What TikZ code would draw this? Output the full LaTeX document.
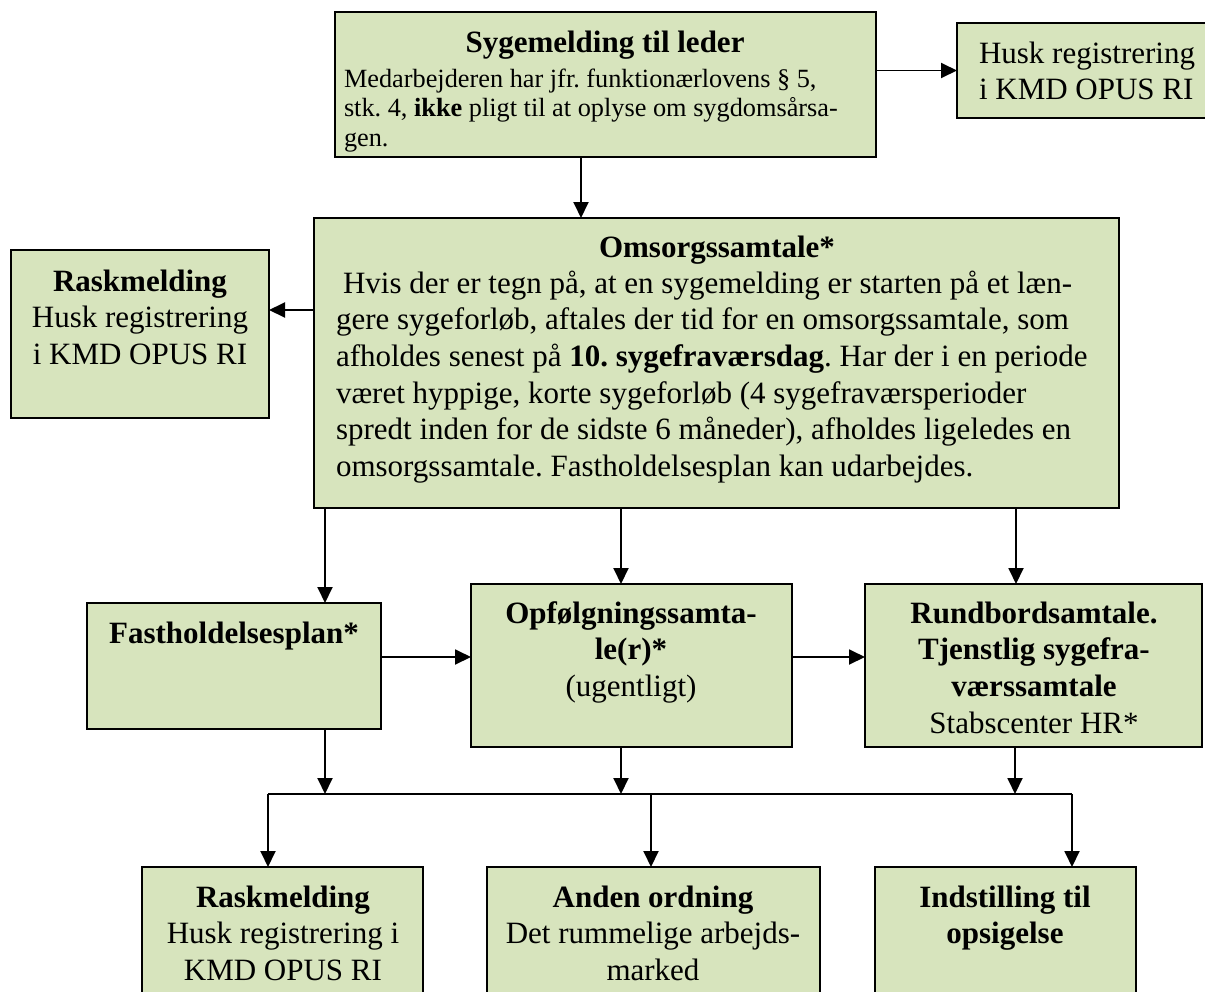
\documentclass[tikz,border=0pt]{standalone}
\usepackage{fontspec}
\setmainfont{Liberation Serif}
\usetikzlibrary{arrows.meta}
\definecolor{boxgreen}{HTML}{D7E4BD}
\frenchspacing
\begin{document}
\begin{tikzpicture}[x=1pt,y=-1pt,
  box/.style={draw=black, fill=boxgreen, line width=1.8pt, rectangle, inner sep=0pt, outer sep=0pt},
  txt/.style={inner sep=0pt, outer sep=0pt, font=\frenchspacing\fontsize{31}{36.7}\selectfont},
  smalltxt/.style={inner sep=0pt, outer sep=0pt, font=\frenchspacing\fontsize{26.3}{29.7}\selectfont},
  arr/.style={line width=1.9pt, -{Triangle[length=16pt,width=15pt]}},
  busline/.style={line width=1.4pt}
]
\useasboundingbox (0,0) rectangle (1205,991);
\clip (0,0) rectangle (1205,991);

% top box
\node[box, minimum width=541pt, minimum height=145pt] (top) at (605.5,84.5) {};
\node[txt, anchor=base] (topT) at (605,52) {\textbf{Sygemelding til leder}};
\node[smalltxt, anchor=north west, align=left] (topB) at (344,66) {\rule{0pt}{21pt}Medarbejderen har jfr. funktionærlovens § 5,\\ stk. 4, \textbf{ikke} pligt til at oplyse om sygdomsårsa-\\ gen.};

% husk (top right)
\node[box, minimum width=258pt, minimum height=95pt] (husk) at (1086,70.5) {};
\node[txt, anchor=north west, align=left] (huskT) at (979,38) {\rule{0pt}{25pt}Husk registrering\\ i KMD OPUS RI};

% raskmelding (left)
\node[box, minimum width=258pt, minimum height=168pt] (rask) at (140,334) {};
\node[txt, anchor=north, align=center] (raskT) at (140,266) {\rule{0pt}{25pt}\textbf{Raskmelding}\\ Husk registrering\\ i KMD OPUS RI};

% omsorgssamtale
\node[box, minimum width=805pt, minimum height=290pt] (oms) at (716.5,363) {};
\node[txt, anchor=base] (omsT) at (717,257) {\textbf{Omsorgssamtale*}};
\node[txt, anchor=north west, align=left] (omsB) at (336,268) {\rule{0pt}{25pt}\hspace{7pt}Hvis der er tegn på, at en sygemelding er starten på et læn-\\ gere sygeforløb, aftales der tid for en omsorgssamtale, som\\ afholdes senest på \textbf{10. sygefraværsdag}. Har der i en periode\\ været hyppige, korte sygeforløb (4 sygefraværsperioder\\ spredt inden for de sidste 6 måneder), afholdes ligeledes en\\ omsorgssamtale. Fastholdelsesplan kan udarbejdes.};

% middle row
\node[box, minimum width=294pt, minimum height=126pt] (fast) at (234,666) {};
\node[txt, anchor=base] (fastT) at (234,643) {\textbf{Fastholdelsesplan*}};

\node[box, minimum width=321pt, minimum height=163pt] (opf) at (631.5,665.5) {};
\node[txt, anchor=north, align=center] (opfT) at (631,598) {\rule{0pt}{25pt}\textbf{Opfølgningssamta-}\\ \textbf{le(r)*}\\ (ugentligt)};

\node[box, minimum width=337pt, minimum height=163pt] (rund) at (1033.5,665.5) {};
\node[txt, anchor=north, align=center] (rundT) at (1034,598) {\rule{0pt}{25pt}\textbf{Rundbordsamtale.}\\ \textbf{Tjenstlig sygefra-}\\ \textbf{værssamtale}\\ Stabscenter HR*};

% bottom row
\node[box, minimum width=281pt, minimum height=140pt] (rask2) at (282.5,937) {};
\node[txt, anchor=north, align=center] (rask2T) at (283,882) {\rule{0pt}{25pt}\textbf{Raskmelding}\\ Husk registrering i\\ KMD OPUS RI};

\node[box, minimum width=333pt, minimum height=140pt] (anden) at (653.5,937) {};
\node[txt, anchor=north, align=center] (andenT) at (653,882) {\rule{0pt}{25pt}\textbf{Anden ordning}\\ Det rummelige arbejds-\\ marked};

\node[box, minimum width=261pt, minimum height=140pt] (ind) at (1005.5,937) {};
\node[txt, anchor=north, align=center] (indT) at (1005,882) {\rule{0pt}{25pt}\textbf{Indstilling til}\\ \textbf{opsigelse}};

% connectors
\draw[arr] (top.east |- husk.west) -- (husk.west);
\draw[arr] (top.south -| 581,0) -- (oms.north -| 581,0);
\draw[arr] (oms.west |- 0,310) -- (rask.east |- 0,310);
\draw[arr] (oms.south -| 325,0) -- (fast.north -| 325,0);
\draw[arr] (oms.south -| 621,0) -- (opf.north -| 621,0);
\draw[arr] (oms.south -| 1016,0) -- (rund.north -| 1016,0);
\draw[arr] (fast.east |- 0,657) -- (opf.west |- 0,657);
\draw[arr] (opf.east |- 0,657) -- (rund.west |- 0,657);

\coordinate (busL) at (268,794);
\coordinate (busM) at (651,794);
\coordinate (busR) at (1072,794);
\draw[arr] (fast.south -| 325,0) -- (busL -| 325,0);
\draw[arr] (opf.south -| 621,0) -- (busL -| 621,0);
\draw[arr] (rund.south -| 1015,0) -- (busL -| 1015,0);
\draw[busline] (busL) -- (busR);
\draw[arr] (busL) -- (rask2.north -| busL);
\draw[arr] (busM) -- (anden.north -| busM);
\draw[arr] (busR) -- (ind.north -| busR);
\end{tikzpicture}
\end{document}
